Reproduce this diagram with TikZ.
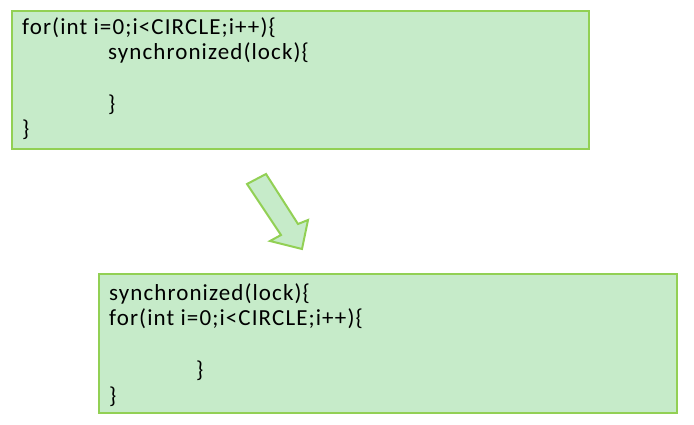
\documentclass[tikz,border=0pt]{standalone}
\usepackage{fontspec}
\setmainfont{Carlito}[LetterSpace=4.8]
\definecolor{boxfill}{RGB}{198,235,201}
\definecolor{boxline}{RGB}{146,208,84}
\tikzset{
  codebox/.style={draw=boxline, line width=2.2pt, fill=boxfill},
  codeline/.style={anchor=base west, inner sep=0pt, font=\fontsize{23}{25}\selectfont}
}
\begin{document}
\begin{tikzpicture}[x=1pt,y=1pt,yscale=-1,xscale=1]
\useasboundingbox (0,0) rectangle (694,424);

%Box: loop outside
\draw [codebox] (12,11) rectangle (589,149);
%Box: lock outside
\draw [codebox] (99,274) rectangle (677,413);

%Block arrow
\draw [boxline, line width=2pt, fill=boxfill, line join=miter]
  (247,184) -- (266,174) -- (298,224) -- (308,220) -- (302,249)
  -- (270,241) -- (281,235) -- cycle ;

% Text Node
\node [codeline] (forA) at (22,34) {for(int i=0;i<CIRCLE;i++)\{};
\node [codeline] (syncA) at (108,59) {synchronized(lock)\{};
\node [codeline] (closeA) at (108,111) {\}};
\node [codeline] (endA) at (22,136) {\}};

% Text Node
\node [codeline] (syncB) at (109,300) {synchronized(lock)\{};
\node [codeline] (forB) at (109,325) {for(int i=0;i<CIRCLE;i++)\{};
\node [codeline] (closeB) at (196,377) {\}};
\node [codeline] (endB) at (109,403) {\}};

\end{tikzpicture}
\end{document}
